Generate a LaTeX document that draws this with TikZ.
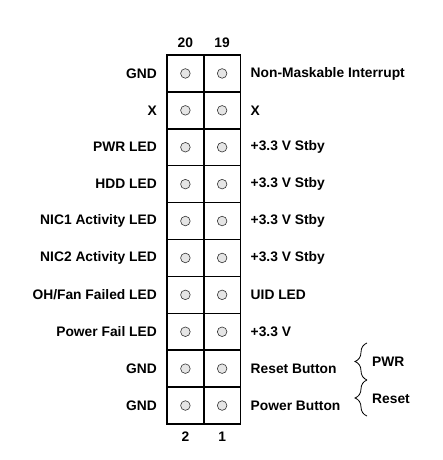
\documentclass[tikz,border=0pt]{standalone}
\usepackage{fontspec}
\setmainfont{Liberation Sans}
\usepackage{tikz}
\usetikzlibrary{positioning,decorations.pathreplacing}

\begin{document}
\begin{tikzpicture}[
    x=1pt, y=1pt,
    node distance=10pt,
    cell/.style={draw, line width=1.5pt, outer sep=0pt, minimum width=36.75pt, minimum height=36.9pt,
        path picture={\draw[line width=0.6pt, draw=black!80, fill=black!10] (path picture bounding box.center) circle (4.8pt);}},
    lbl/.style={font=\bfseries\fontsize{13.8}{16}\selectfont, inner sep=0pt},
    num/.style={font=\bfseries\fontsize{13.8}{16}\selectfont, inner sep=0pt},
    brc/.style={decorate, decoration={brace, amplitude=12pt}, line width=0.8pt}
]
    \useasboundingbox (0,0) rectangle (442,460);

    % header grid
    \node[cell, anchor=north west] (p20) at (167,405) {};
    \node[cell, right=0pt of p20] (p19) {};
    \node[cell, below=0pt of p20] (p18) {};
    \node[cell, right=0pt of p18] (p17) {};
    \node[cell, below=0pt of p18] (p16) {};
    \node[cell, right=0pt of p16] (p15) {};
    \node[cell, below=0pt of p16] (p14) {};
    \node[cell, right=0pt of p14] (p13) {};
    \node[cell, below=0pt of p14] (p12) {};
    \node[cell, right=0pt of p12] (p11) {};
    \node[cell, below=0pt of p12] (p10) {};
    \node[cell, right=0pt of p10] (p9) {};
    \node[cell, below=0pt of p10] (p8) {};
    \node[cell, right=0pt of p8] (p7) {};
    \node[cell, below=0pt of p8] (p6) {};
    \node[cell, right=0pt of p6] (p5) {};
    \node[cell, below=0pt of p6] (p4) {};
    \node[cell, right=0pt of p4] (p3) {};
    \node[cell, below=0pt of p4] (p2) {};
    \node[cell, right=0pt of p2] (p1) {};

    % pin numbers
    \node[num, above=7pt of p20] (n20) {20};
    \node[num, above=7pt of p19] (n19) {19};
    \node[num, below=8pt of p2] (n2) {2};
    \node[num, below=8pt of p1] (n1) {1};

    % left labels
    \node[lbl, left=of p20] (l20) {GND};
    \node[lbl, left=of p18] (l18) {X};
    \node[lbl, left=of p16] (l16) {PWR LED};
    \node[lbl, left=of p14] (l14) {HDD LED};
    \node[lbl, left=of p12] (l12) {NIC1 Activity LED};
    \node[lbl, left=of p10] (l10) {NIC2 Activity LED};
    \node[lbl, left=of p8] (l8) {OH/Fan Failed LED};
    \node[lbl, left=of p6] (l6) {Power Fail LED};
    \node[lbl, left=of p4] (l4) {GND};
    \node[lbl, left=of p2] (l2) {GND};

    % right labels
    \node[lbl, right=of p19] (r19) {Non-Maskable Interrupt};
    \node[lbl, right=of p17] (r17) {X};
    \node[lbl, right=of p15] (r15) {+3.3 V Stby};
    \node[lbl, right=of p13] (r13) {+3.3 V Stby};
    \node[lbl, right=of p11] (r11) {+3.3 V Stby};
    \node[lbl, right=of p9] (r9) {+3.3 V Stby};
    \node[lbl, right=of p7] (r7) {UID LED};
    \node[lbl, right=of p5] (r5) {+3.3 V};
    \node[lbl, right=of p3] (r3) {Reset Button};
    \node[lbl, right=of p1] (r1) {Power Button};

    % braces
    \coordinate (b0) at (367,44);
    \coordinate (b1) at (367,80);
    \coordinate (b2) at (367,117);
    \draw[brc] (b1) -- (b2);
    \draw[brc] (b0) -- (b1);
    \node[lbl, anchor=west] (pwr) at (372,98) {PWR};
    \node[lbl, anchor=west] (rst) at (372,61) {Reset};
\end{tikzpicture}
\end{document}
